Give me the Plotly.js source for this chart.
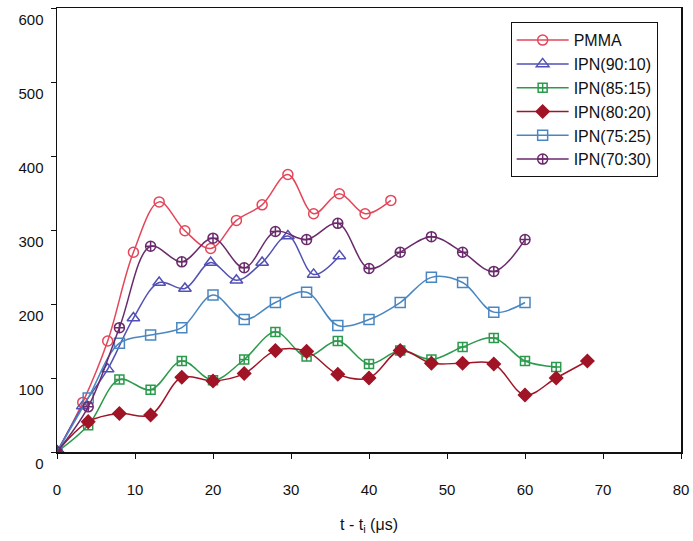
<!DOCTYPE html>
<html>
<head>
<meta charset="utf-8">
<script src="https://cdn.plot.ly/plotly-3.0.1.min.js"></script>
<style>html,body{margin:0;padding:0;background:#fff;}#chart{width:693px;height:541px;}</style>
</head>
<body>
<div id="chart"></div>
<script>
// Data
const seriesNames = ["PMMA", "IPN(90:10)", "IPN(85:15)", "IPN(80:20)", "IPN(75:25)", "IPN(70:30)"];

const xPMMA = [0, 3.3, 6.5, 9.8, 13.1, 16.4, 19.7, 23.0, 26.3, 29.6, 32.9, 36.2, 39.5, 42.8];
const yPMMA = [0, 67, 150, 270, 338, 299, 275, 313, 334, 375, 322, 349, 322, 340];

const xIPN9010 = [0, 3.3, 6.5, 9.8, 13.1, 16.4, 19.7, 23.0, 26.3, 29.6, 32.9, 36.2];
const yIPN9010 = [0, 62, 112, 181, 229, 221, 256, 232, 256, 292, 240, 265];

const xIPN8515 = [0, 4, 8, 12, 16, 20, 24, 28, 32, 36, 40, 44, 48, 52, 56, 60, 64];
const yIPN8515 = [0, 36, 98, 84, 123, 97, 125, 162, 129, 150, 119, 137, 125, 142, 154, 123, 115];

const xIPN8020 = [0, 4, 8, 12, 16, 20, 24, 28, 32, 36, 40, 44, 48, 52, 56, 60, 64, 68];
const yIPN8020 = [0, 41, 52, 50, 101, 96, 106, 137, 136, 105, 100, 137, 120, 120, 119, 77, 100, 123];

const xIPN7525 = [0, 4, 8, 12, 16, 20, 24, 28, 32, 36, 40, 44, 48, 52, 56, 60];
const yIPN7525 = [0, 73, 147, 158, 168, 212, 179, 202, 216, 171, 179, 202, 236, 229, 189, 202];

const xIPN7030 = [0, 4, 8, 12, 16, 20, 24, 28, 32, 36, 40, 44, 48, 52, 56, 60];
const yIPN7030 = [0, 61, 168, 278, 257, 289, 249, 298, 287, 309, 248, 270, 291, 270, 244, 287];

const xTicks = [0, 10, 20, 30, 40, 50, 60, 70, 80];
const yTicks = [0, 100, 200, 300, 400, 500, 600];

const xs = [xPMMA, xIPN9010, xIPN8515, xIPN8020, xIPN7525, xIPN7030];
const ys = [yPMMA, yIPN9010, yIPN8515, yIPN8020, yIPN7525, yIPN7030];
const colors = ["#e4465a", "#5250b4", "#2c9a4c", "#a01426", "#4a86c0", "#6a2a6c"];
const symbols = ["circle-open", "triangle-up-open", "square-cross-open", "diamond", "square-open", "circle-cross-open"];
const sizes = [10, 11, 9, 10, 10, 10];

const traces = seriesNames.map((n, i) => ({
  type: "scatter",
  mode: "lines+markers",
  name: n,
  x: xs[i],
  y: ys[i],
  line: {color: colors[i], width: 1.5, shape: "spline", smoothing: 1},
  marker: {symbol: symbols[i], size: sizes[i], color: colors[i], line: {color: colors[i], width: 1.5}}
}));

const layout = {
  width: 693,
  height: 541,
  paper_bgcolor: "#ffffff",
  plot_bgcolor: "#ffffff",
  font: {family: "Liberation Sans, Arial, sans-serif", color: "#111", size: 15},
  margin: {l: 57, r: 12, t: 8, b: 89},
  showlegend: true,
  legend: {
    x: 0.727, y: 0.968, xanchor: "left", yanchor: "top",
    bgcolor: "#ffffff", bordercolor: "#111", borderwidth: 1,
    font: {size: 16, color: "#111"},
    itemwidth: 52,
    tracegroupgap: 0
  },
  xaxis: {
    range: [0, 80],
    tickvals: xTicks,
    ticktext: xTicks.map(String),
    ticks: "outside", ticklen: 5, tickcolor: "#111",
    showgrid: false, zeroline: false,
    showline: true, linecolor: "#111", linewidth: 1.5, mirror: true,
    ticklabelstandoff: 18,
    title: {text: "t - t<sub>i</sub> (μs)", font: {size: 16}, standoff: 22}
  },
  yaxis: {
    range: [0, 600],
    tickvals: yTicks,
    ticktext: yTicks.map(String),
    ticks: "outside", ticklen: 5, tickcolor: "#111",
    showgrid: false, zeroline: false,
    showline: true, linecolor: "#111", linewidth: 1.5, mirror: true,
    ticklabelstandoff: 4,
    ticklabelshift: 12,
    ticklabeloverflow: "allow"
  }
};

Plotly.newPlot("chart", traces, layout, {displayModeBar: false, staticPlot: true});
</script>
</body>
</html>
